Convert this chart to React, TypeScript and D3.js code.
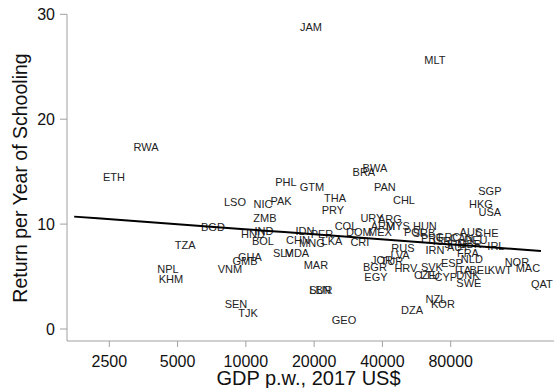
import React from 'react';
import * as d3 from 'd3';

// country codes, GDP per worker (2017 US$) and return per year of schooling (%)
const countries = [
  'JAM', 'MLT', 'RWA', 'ETH', 'LSO', 'NIC', 'PAK', 'PHL', 'GTM', 'ZMB',
  'BGD', 'HND', 'IND', 'BOL', 'TZA', 'IDN', 'CHN', 'MNG', 'PER', 'LKA',
  'CRI', 'COL', 'DOM', 'MEX', 'PRY', 'THA', 'BRA', 'BWA', 'PAN', 'CHL',
  'SGP', 'HKG', 'USA', 'URY', 'ARG', 'ARM', 'MYS', 'HUN', 'POL', 'SRB',
  'IRN', 'IRL', 'AUS', 'CHE', 'FRA', 'NLD', 'ESP', 'ITA', 'BEL', 'KWT',
  'MAC', 'NOR', 'SWE', 'CYP', 'DNK', 'CZE', 'SVK', 'LTU', 'HRV', 'BGR',
  'EGY', 'QAT', 'NZL', 'KOR', 'DZA', 'GEO', 'LBN', 'SUR', 'MAR', 'MDA',
  'SLV', 'GHA', 'GMB', 'VNM', 'NPL', 'KHM', 'SEN', 'TJK', 'JOR', 'TUR',
  'LVA', 'RUS', 'GRC', 'CAN', 'PRT', 'ISR', 'JPN', 'GBR', 'DEU', 'AUT'
];
const gdpPerWorker = [
  19360, 68150, 3628, 2622, 8950, 11910, 14290, 15020, 19560, 12140,
  7160, 10750, 12020, 11890, 5400, 18230, 16970, 19560, 21650, 23970,
  31820, 27630, 31520, 39000, 24200, 24710, 33150, 37070, 41030, 49770,
  119100, 108750, 119100, 35960, 43170, 40200, 46820, 61570, 55630, 61000,
  68150, 126600, 98200, 115500, 95270, 99190, 81000, 90600, 107600, 131800,
  175100, 156600, 96200, 76200, 95270, 61570, 66100, 64760, 50790, 37070,
  37450, 201800, 68840, 73950, 54000, 27080, 21220, 21400, 20360, 16800,
  14570, 10425, 9910, 8510, 4535, 4675, 9045, 10220, 39800, 44050,
  47800, 49260, 77900, 89600, 66100, 73200, 83500, 97200, 103300, 86100
];
const returnToSchooling = [
  28.76, 25.62, 17.33, 14.48, 12.1, 11.9, 12.19, 14.0, 13.52, 10.57,
  9.71, 9.05, 9.33, 8.38, 8.0, 9.33, 8.48, 8.19, 9.05, 8.38,
  8.29, 9.81, 9.24, 9.24, 11.33, 12.48, 14.95, 15.33, 13.52, 12.29,
  13.14, 11.9, 11.14, 10.57, 10.48, 9.81, 9.81, 9.81, 9.24, 9.14,
  7.52, 7.9, 9.24, 9.14, 7.24, 6.67, 6.29, 5.62, 5.62, 5.62,
  5.81, 6.38, 4.38, 4.95, 5.14, 5.14, 5.9, 5.14, 5.81, 5.9,
  4.95, 4.29, 2.86, 2.38, 1.81, 0.86, 3.71, 3.71, 6.1, 7.24,
  7.24, 6.86, 6.48, 5.71, 5.71, 4.76, 2.38, 1.52, 6.57, 6.48,
  7.05, 7.71, 8.76, 8.67, 8.67, 8.38, 8.1, 8.1, 8.48, 7.81
];

const xTicks = [2500, 5000, 10000, 20000, 40000, 80000];
const yTicks = [0, 10, 20, 30];

// linear fit of return on ln(GDP p.w.)
const fitIntercept = 15.88;
const fitSlope = -0.692;
const fitRange = [1750, 200000];

const W = 554;
const H = 388;

export default function App() {
  const x = d3.scaleLog().domain([2500, 80000]).range([109.3, 450.7]);
  const y = d3.scaleLinear().domain([0, 30]).range([329, 14.3]);

  const axisY = 341;
  const axisX = 67;

  const fitLine = d3.line<number>()
    .x(d => x(d))
    .y(d => y(fitIntercept + fitSlope * Math.log(d)));

  const font = '"Liberation Sans", Arial, Helvetica, sans-serif';

  return (
    <svg width={W} height={H} style={{ position: 'absolute', left: 0, top: 0, background: '#fff' }}
      fontFamily={font}>
      {/* axes */}
      <line x1={axisX} x2={W} y1={axisY} y2={axisY} stroke="#a0a0a0" strokeWidth={1} />
      <line x1={axisX} x2={axisX} y1={y(30)} y2={axisY} stroke="#a0a0a0" strokeWidth={1} />
      {xTicks.map(t => (
        <g key={t}>
          <line x1={x(t)} x2={x(t)} y1={axisY} y2={axisY + 6} stroke="#a0a0a0" />
          <text x={x(t)} y={367} textAnchor="middle" fontSize={16} fill="#111">{t}</text>
        </g>
      ))}
      {yTicks.map(t => (
        <g key={t}>
          <line x1={axisX - 7} x2={axisX} y1={y(t)} y2={y(t)} stroke="#a0a0a0" />
          <text x={55} y={y(t)} dy="0.36em" textAnchor="end" fontSize={16} fill="#111">{t}</text>
        </g>
      ))}
      <text x={308.5} y={385} textAnchor="middle" fontSize={20} fill="#111">GDP p.w., 2017 US$</text>
      <text transform={`translate(27,178) rotate(-90)`} textAnchor="middle" fontSize={19.5} fill="#111">
        Return per Year of Schooling
      </text>

      {/* country labels */}
      {countries.map((c, i) => (
        <text key={c} x={x(gdpPerWorker[i])} y={y(returnToSchooling[i])} dy="0.36em"
          textAnchor="middle" fontSize={11} fill="#222">{c}</text>
      ))}

      {/* fitted line */}
      <path d={fitLine(d3.range(0, 21).map(i => fitRange[0] * Math.pow(fitRange[1] / fitRange[0], i / 20))) || ''}
        fill="none" stroke="#000" strokeWidth={2} />
    </svg>
  );
}
